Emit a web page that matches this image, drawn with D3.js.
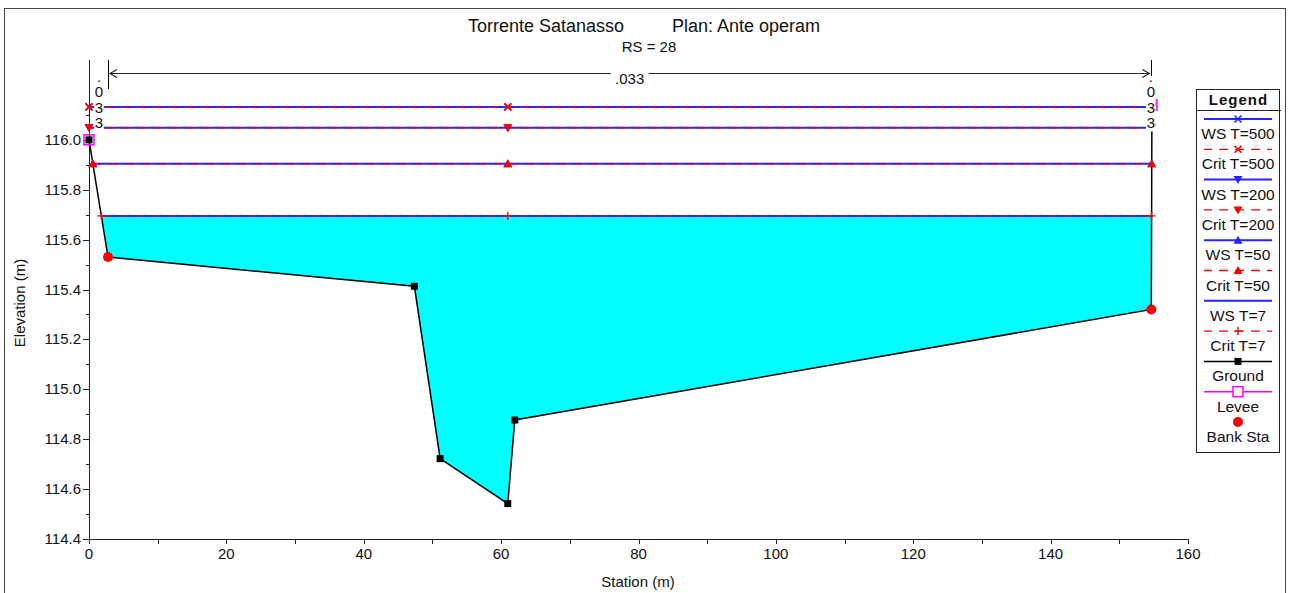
<!DOCTYPE html>
<html>
<head>
<meta charset="utf-8">
<script src="https://cdn.jsdelivr.net/npm/d3@7"></script>
<style>
  html, body { margin: 0; padding: 0; background: #fff; }
  svg { display: block; font-family: "Liberation Sans", Arial, sans-serif; }
</style>
</head>
<body>
<svg id="chart" width="1289" height="593"></svg>
<script>
// ---------------- DATA ----------------
const titleLeft = "Torrente Satanasso";
const titleRight = "Plan: Ante operam";
const subTitle = "RS = 28";
const xLabel = "Station (m)";
const yLabel = "Elevation (m)";

const groundSta  = [0, 2.77, 47.37, 51.12, 60.97, 61.99, 154.66, 154.75];
const groundElev = [116.00, 115.53, 115.413, 114.722, 114.542, 114.877, 115.32, 116.15];

const bankSta  = [2.77, 154.66];
const bankElev = [115.53, 115.32];

const leveeSta  = [0, 154.75];
const leveeElev = [116.00, 116.14];

const profileNames = ["T=500", "T=200", "T=50", "T=7"];
const wsElev   = [116.132, 116.048, 115.904, 115.695];
const critElev = [116.132, 116.048, 115.904, 115.695];
const profileMarkers = ["cross", "triDown", "triUp", "plus"];

const nValueLabel = ".033";
const nOverbank = ".033";

const xTicks = [0, 20, 40, 60, 80, 100, 120, 140, 160];
const xMinorTicks = [0, 10, 20, 30, 40, 50, 60, 70, 80, 90, 100, 110, 120, 130, 140, 150, 160];
const yTicks = [114.4, 114.6, 114.8, 115.0, 115.2, 115.4, 115.6, 115.8, 116.0];
const yMinorTicks = [114.5, 114.7, 114.9, 115.1, 115.3, 115.5, 115.7, 115.9, 116.1];

const legendLabels = ["WS T=500", "Crit T=500", "WS T=200", "Crit T=200", "WS T=50", "Crit T=50",
                      "WS T=7", "Crit T=7", "Ground", "Levee", "Bank Sta"];

// ---------------- STYLE ----------------
const BLUE = "#2424ff", RED = "#ff0000", MAG = "#ff00ff", CYAN = "#00ffff";

const svg = d3.select("#chart");
const x = d3.scaleLinear().domain([0, 160]).range([89, 1188]);
const y = d3.scaleLinear().domain([114.4, 116.32]).range([539, 60]);

// outer frame
svg.append("rect").attr("x", 4.5).attr("y", 8.5).attr("width", 1281).attr("height", 600)
  .attr("fill", "none").attr("stroke", "#444").attr("stroke-width", 1);

// titles
svg.append("text").attr("x", 468).attr("y", 32).attr("font-size", 18).attr("fill", "#111").text(titleLeft);
svg.append("text").attr("x", 672).attr("y", 32).attr("font-size", 18).attr("fill", "#111").text(titleRight);
svg.append("text").attr("x", 649).attr("y", 52).attr("font-size", 15).attr("text-anchor", "middle").attr("fill", "#111").text(subTitle);

const ground = groundSta.map((s, i) => ({s, e: groundElev[i]}));

function intersections(h) {
  let left = null, right = null;
  if (ground[0].e <= h) left = ground[0].s;
  else {
    for (let i = 0; i < ground.length - 1; i++) {
      const a = ground[i], b = ground[i + 1];
      if (a.e > h && b.e <= h) { left = a.s + (a.e - h) / (a.e - b.e) * (b.s - a.s); break; }
    }
  }
  const n = ground.length;
  if (ground[n - 1].e <= h) right = ground[n - 1].s;
  else {
    for (let i = n - 1; i > 0; i--) {
      const a = ground[i - 1], b = ground[i];
      if (b.e > h && a.e <= h) { right = a.s + (h - a.e) / (b.e - a.e) * (b.s - a.s); break; }
    }
  }
  return [left, right];
}

// water fill for lowest profile
const lowIdx = wsElev.indexOf(d3.min(wsElev));
const hLow = wsElev[lowIdx];
const [wl, wr] = intersections(hLow);
const poly = [{s: wl, e: hLow}];
ground.forEach(g => { if (g.s > wl && g.s < wr) poly.push(g); });
poly.push({s: wr, e: hLow});
svg.append("path")
  .attr("d", d3.line().x(d => x(d.s)).y(d => y(d.e))(poly) + "Z")
  .attr("fill", CYAN).attr("stroke", "none");

// axes
const axisG = svg.append("g").attr("stroke", "#222").attr("stroke-width", 1);
axisG.append("line").attr("x1", x(0)).attr("x2", x(160)).attr("y1", y(114.4) + 0.5).attr("y2", y(114.4) + 0.5);
axisG.append("line").attr("x1", x(0) + 0.5).attr("x2", x(0) + 0.5).attr("y1", y(114.4)).attr("y2", 60);
xMinorTicks.forEach(t => axisG.append("line").attr("x1", Math.round(x(t)) + 0.5).attr("x2", Math.round(x(t)) + 0.5)
  .attr("y1", y(114.4)).attr("y2", y(114.4) + 5));
yMinorTicks.forEach(t => axisG.append("line").attr("x1", x(0)).attr("x2", x(0) - 3)
  .attr("y1", Math.round(y(t)) + 0.5).attr("y2", Math.round(y(t)) + 0.5));
yTicks.forEach(t => axisG.append("line").attr("x1", x(0)).attr("x2", x(0) - 6)
  .attr("y1", Math.round(y(t)) + 0.5).attr("y2", Math.round(y(t)) + 0.5));
svg.append("g").selectAll("text").data(xTicks).join("text")
  .attr("x", d => x(d)).attr("y", 559).attr("text-anchor", "middle").attr("font-size", 15).attr("fill", "#111")
  .text(d => d);
svg.append("g").selectAll("text").data(yTicks).join("text")
  .attr("x", x(0) - 8).attr("y", d => y(d) + 5).attr("text-anchor", "end").attr("font-size", 15).attr("fill", "#111")
  .text(d => d3.format(".1f")(d));
svg.append("text").attr("x", 638).attr("y", 587).attr("text-anchor", "middle").attr("font-size", 15).attr("fill", "#111").text(xLabel);
svg.append("text").attr("transform", "translate(25,303) rotate(-90)").attr("text-anchor", "middle")
  .attr("font-size", 15).attr("fill", "#111").text(yLabel);

// ground line
svg.append("path")
  .attr("d", d3.line().x(d => x(d.s)).y(d => y(d.e))(ground))
  .attr("fill", "none").attr("stroke", "#000").attr("stroke-width", 1.5);

// profile lines
const thalweg = groundSta[groundElev.indexOf(d3.min(groundElev))];
wsElev.forEach((h, i) => {
  const [l, r] = intersections(h);
  svg.append("line").attr("x1", x(l)).attr("x2", x(r)).attr("y1", y(h)).attr("y2", y(h))
    .attr("stroke", BLUE).attr("stroke-width", 2);
});
critElev.forEach((h, i) => {
  const [l, r] = intersections(h);
  svg.append("line").attr("x1", x(l)).attr("x2", x(r)).attr("y1", y(h)).attr("y2", y(h))
    .attr("stroke", RED).attr("stroke-opacity", 0.58).attr("stroke-width", 2).attr("stroke-dasharray", "9,7");
});

function marker(g, type, cx, cy, color) {
  if (type === "cross") {
    g.append("path").attr("d", `M${cx-3.5},${cy-3.5}L${cx+3.5},${cy+3.5}M${cx-3.5},${cy+3.5}L${cx+3.5},${cy-3.5}`)
      .attr("stroke", color).attr("stroke-width", 1.6).attr("fill", "none");
  } else if (type === "plus") {
    g.append("path").attr("d", `M${cx-4},${cy}L${cx+4},${cy}M${cx},${cy-4}L${cx},${cy+4}`)
      .attr("stroke", color).attr("stroke-width", 1.4).attr("fill", "none");
  } else if (type === "triDown") {
    g.append("path").attr("d", `M${cx-4.5},${cy-3.5}L${cx+4.5},${cy-3.5}L${cx},${cy+4.5}Z`).attr("fill", color);
  } else if (type === "triUp") {
    g.append("path").attr("d", `M${cx-4.5},${cy+3.5}L${cx+4.5},${cy+3.5}L${cx},${cy-4.5}Z`).attr("fill", color);
  } else if (type === "square") {
    g.append("rect").attr("x", cx - 3.5).attr("y", cy - 3.5).attr("width", 7).attr("height", 7).attr("fill", color);
  } else if (type === "openSquare") {
    g.append("rect").attr("x", cx - 5).attr("y", cy - 5).attr("width", 10).attr("height", 10)
      .attr("fill", "none").attr("stroke", color).attr("stroke-width", 1.5);
  } else if (type === "circle") {
    g.append("circle").attr("cx", cx).attr("cy", cy).attr("r", 5).attr("fill", color);
  }
}

const mk = svg.append("g");
wsElev.forEach((h, i) => {
  if (profileMarkers[i] === "plus") return; // WS T=7 has no marker
  const [l, r] = intersections(h);
  [l, thalweg, r].forEach(s => marker(mk, profileMarkers[i], x(s), y(h), BLUE));
});
critElev.forEach((h, i) => {
  const [l, r] = intersections(h);
  [l, thalweg, r].forEach(s => marker(mk, profileMarkers[i], x(s), y(h), RED));
});
ground.forEach(g => marker(mk, "square", x(g.s), y(g.e), "#000"));
leveeSta.forEach((s, i) => marker(mk, "openSquare", x(s), y(leveeElev[i]), MAG));
bankSta.forEach((s, i) => marker(mk, "circle", x(s), y(bankElev[i]), RED));

// n-value annotation
const ann = svg.append("g");
bankSta.forEach(s => ann.append("line").attr("x1", Math.round(x(s)) + 0.5).attr("x2", Math.round(x(s)) + 0.5)
  .attr("y1", 60).attr("y2", 89).attr("stroke", "#000").attr("stroke-width", 1));
// vertical overbank labels
const chars = nOverbank.split("");
[ x(bankSta[0] / 2) + 0.5, x(bankSta[1]) - 0.5 ].forEach((cx, k) => {
  chars.forEach((c, j) => {
    const base = 82 + 15.3 * j;
    ann.append("rect").attr("x", cx - 4.8).attr("y", base - (j === 0 ? 6 : 12.5)).attr("width", 9.6).attr("height", j === 0 ? 9.5 : 16)
      .attr("fill", "#fff");
  });
  chars.forEach((c, j) => {
    const base = 82 + 15.3 * j;
    ann.append("text").attr("x", cx).attr("y", base).attr("text-anchor", "middle").attr("font-size", 15)
      .attr("fill", "#111").text(c);
  });
});
const ax1 = x(bankSta[0]) + 2, ax2 = x(bankSta[1]) - 2, ay = 73.5;
ann.append("line").attr("x1", ax1).attr("x2", ax2).attr("y1", ay).attr("y2", ay).attr("stroke", "#222").attr("stroke-width", 1);
ann.append("path").attr("d", `M${ax1 + 7},${ay - 4}L${ax1},${ay}L${ax1 + 7},${ay + 4}M${ax2 - 7},${ay - 4}L${ax2},${ay}L${ax2 - 7},${ay + 4}`)
  .attr("fill", "none").attr("stroke", "#222").attr("stroke-width", 1.2);
const mid = (x(bankSta[0]) + x(bankSta[1])) / 2;
ann.append("rect").attr("x", mid - 19).attr("y", ay - 8).attr("width", 38).attr("height", 16).attr("fill", "#fff");
ann.append("text").attr("x", mid).attr("y", ay + 10).attr("text-anchor", "middle").attr("font-size", 15)
  .attr("fill", "#111").text(nValueLabel);

// legend
const lg = svg.append("g");
const LX = 1196, LY = 89, LW = 83, LH = 363;
lg.append("rect").attr("x", LX + 0.5).attr("y", LY + 0.5).attr("width", LW).attr("height", LH)
  .attr("fill", "#fff").attr("stroke", "#222").attr("stroke-width", 1);
lg.append("line").attr("x1", LX).attr("x2", LX + LW + 2).attr("y1", 110.5).attr("y2", 110.5).attr("stroke", "#222");
lg.append("text").attr("x", LX + LW / 2 + 1).attr("y", 105).attr("text-anchor", "middle").attr("font-size", 15)
  .attr("font-weight", "bold").attr("letter-spacing", 1).attr("fill", "#111").text("Legend");
const lx1 = 1204, lx2 = 1272, lcx = 1238;
legendLabels.forEach((lab, i) => {
  const ly = 119 + 30.3 * i;
  const pIdx = Math.floor(i / 2);
  if (i < 8) {
    const isWS = i % 2 === 0;
    lg.append("line").attr("x1", lx1).attr("x2", lx2).attr("y1", ly).attr("y2", ly)
      .attr("stroke", isWS ? BLUE : RED).attr("stroke-width", isWS ? 2 : 1.3)
      .attr("stroke-dasharray", isWS ? null : "9,7").attr("stroke-dashoffset", isWS ? 0 : 1);
    if (!(isWS && profileMarkers[pIdx] === "plus")) marker(lg, profileMarkers[pIdx], lcx, ly, isWS ? BLUE : RED);
  } else if (lab === "Ground") {
    lg.append("line").attr("x1", lx1).attr("x2", lx2).attr("y1", ly).attr("y2", ly).attr("stroke", "#000").attr("stroke-width", 1.5);
    marker(lg, "square", lcx, ly, "#000");
  } else if (lab === "Levee") {
    lg.append("line").attr("x1", lx1).attr("x2", lx2).attr("y1", ly).attr("y2", ly).attr("stroke", MAG).attr("stroke-width", 1.5);
    lg.append("rect").attr("x", lcx - 5).attr("y", ly - 5).attr("width", 10).attr("height", 10).attr("fill", "#fff")
      .attr("stroke", MAG).attr("stroke-width", 1.5);
  } else {
    marker(lg, "circle", lcx, ly, RED);
  }
  lg.append("text").attr("x", lcx).attr("y", ly + 20).attr("text-anchor", "middle").attr("font-size", 15.5)
    .attr("fill", "#111").text(lab);
});
</script>
</body>
</html>
